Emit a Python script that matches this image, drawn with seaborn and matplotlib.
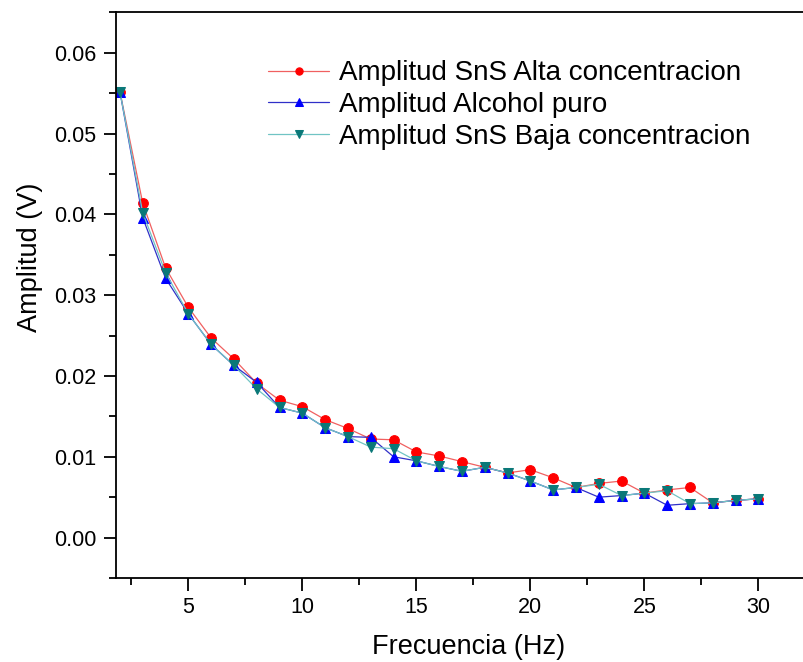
import matplotlib
matplotlib.use("Agg")
import matplotlib.pyplot as plt
import seaborn as sns
import pandas as pd
from matplotlib.ticker import MultipleLocator

freq = list(range(2, 31))
alta = [0.0552, 0.0414, 0.0334, 0.0285, 0.0247, 0.0221, 0.0191, 0.0170, 0.0162, 0.0146,
        0.0135, 0.0122, 0.0121, 0.0106, 0.0101, 0.0094, 0.0087, 0.0080, 0.0084, 0.0074,
        0.0062, 0.0067, 0.0070, 0.0055, 0.0059, 0.0062, 0.0043, 0.0046, 0.0048]
alcohol = [0.0552, 0.0396, 0.0321, 0.0277, 0.0239, 0.0213, 0.0192, 0.0161, 0.0154, 0.0136,
           0.0125, 0.0124, 0.0100, 0.0095, 0.0088, 0.0082, 0.0087, 0.0080, 0.0070, 0.0059,
           0.0062, 0.0050, 0.0052, 0.0055, 0.0040, 0.0042, 0.0043, 0.0046, 0.0048]
baja = [0.0552, 0.0402, 0.0328, 0.0277, 0.0239, 0.0213, 0.0184, 0.0161, 0.0154, 0.0136,
        0.0125, 0.0112, 0.0110, 0.0095, 0.0088, 0.0082, 0.0087, 0.0080, 0.0070, 0.0059,
        0.0062, 0.0066, 0.0052, 0.0055, 0.0058, 0.0042, 0.0043, 0.0046, 0.0048]

labels = ["Amplitud SnS Alta concentracion", "Amplitud Alcohol puro",
          "Amplitud SnS Baja concentracion"]

sns.set_style("ticks")
plt.rcParams['font.family'] = ['Liberation Sans', 'DejaVu Sans']
plt.rcParams['text.color'] = 'black'
plt.rcParams['axes.labelcolor'] = 'black'
plt.rcParams['xtick.color'] = 'black'
plt.rcParams['ytick.color'] = 'black'

fig = plt.figure(figsize=(8.04, 6.62), dpi=100)
ax = fig.add_axes([0.1443, 0.1269, 1 - 0.1443, 0.8545])

styles = [
    (alta, labels[0], "#f06060", "o", "#ff0000"),
    (alcohol, labels[1], "#3030c8", "^", "#0000ff"),
    (baja, labels[2], "#70c4c4", "v", "#0a7878"),
]
for vals, lab, lc, mk, mc in styles:
    df = pd.DataFrame({"x": freq, "y": vals})
    sns.lineplot(data=df, x="x", y="y", ax=ax, color=lc, linewidth=0.9,
                 marker=mk, markersize=7, markerfacecolor=mc, markeredgecolor=mc,
                 label=lab)

ax.set_xlim(1.83, 32.0)
ax.set_ylim(-0.005, 0.065)
ax.xaxis.set_major_locator(MultipleLocator(5))
ax.xaxis.set_minor_locator(MultipleLocator(2.5))
ax.yaxis.set_major_locator(MultipleLocator(0.01))
ax.yaxis.set_minor_locator(MultipleLocator(0.005))
ax.yaxis.set_major_formatter(matplotlib.ticker.FormatStrFormatter('%.2f'))

ax.spines['right'].set_visible(False)
for s in ['left', 'bottom', 'top']:
    ax.spines[s].set_linewidth(1.3)
    ax.spines[s].set_color('black')
ax.tick_params(which='major', direction='out', length=9, width=1.3, labelsize=15.5,
               colors='black', labelcolor='black', pad=5)
ax.tick_params(which='minor', direction='out', length=5, width=1.3, colors='black')
ax.tick_params(axis='y', which='both', right=False)
ax.tick_params(axis='x', which='both', top=False)

ax.set_xlabel("Frecuencia (Hz)", fontsize=19.5, color='black')
ax.set_ylabel("Amplitud (V)", fontsize=19.5, color='black')
ax.xaxis.label.set(va='center', ha='center')
ax.yaxis.label.set(va='center', ha='center')
ax.xaxis.set_label_coords(0.513, -0.122)
ax.yaxis.set_label_coords(-0.125, 0.567)

leg = ax.legend(loc='upper left', bbox_to_anchor=(0.221, 0.915), frameon=False,
                fontsize=20, handlelength=2.2, handletextpad=0.35, labelspacing=0.2,
                borderpad=0, borderaxespad=0, markerscale=0.75)
for t in leg.get_texts():
    t.set_color('black')

fig.savefig("out.png", dpi=100)
